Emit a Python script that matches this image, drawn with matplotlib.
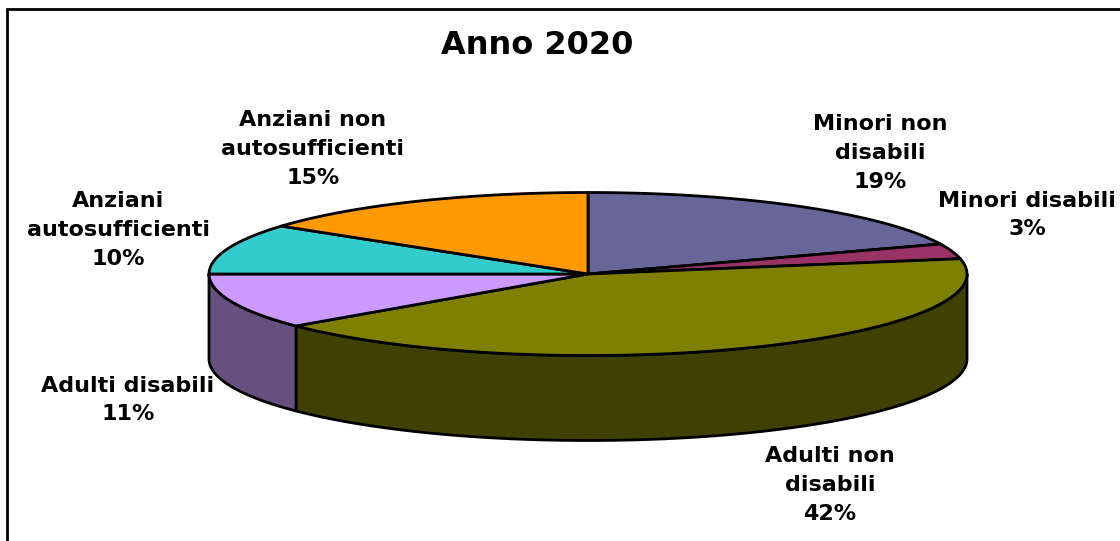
import numpy as np
import matplotlib
matplotlib.use("Agg")
import matplotlib.pyplot as plt
from matplotlib.patches import Polygon, Rectangle

labels = ["Minori non\ndisabili", "Minori disabili", "Adulti non\ndisabili", "Adulti disabili",
          "Anziani\nautosufficienti", "Anziani non\nautosufficienti"]
values = [19, 3, 42, 11, 10, 15]
top_colors = ["#666699", "#993366", "#808000", "#CC99FF", "#33CCCC", "#FF9900"]
side_colors = ["#333366", "#4d1a33", "#404000", "#665080", "#1a6666", "#804d00"]

plt.rcParams["font.family"] = ["DejaVu Sans"]

cx, cy, rx, ry, depth = 588, 274, 379, 81.5, 85
label_pos = [(880, 153), (1027, 215), (830, 485), (128, 400), (118, 230), (313, 149)]

fig = plt.figure(figsize=(11.2, 5.41), dpi=100)
ax = fig.add_axes([0, 0, 1, 1])
ax.set_xlim(0, 1120)
ax.set_ylim(541, 0)
ax.axis("off")

ax.add_patch(Rectangle((7, 9), 1200, 600, fc="white", ec="black", lw=2))


def rim(a0, a1, dy=0):
    t = np.radians(np.linspace(a0, a1, 200))
    return np.column_stack([cx + rx * np.sin(t), cy - ry * np.cos(t) + dy])


edges = np.concatenate([[0], np.cumsum(values)]) * 3.6

# sides first, only the part of the rim facing the viewer
for i in range(len(values)):
    a0, a1 = max(edges[i], 90), min(edges[i + 1], 270)
    if a0 >= a1:
        continue
    pts = np.vstack([rim(a0, a1), rim(a0, a1, depth)[::-1]])
    ax.add_patch(Polygon(pts, fc=side_colors[i], ec="black", lw=2, joinstyle="round"))

for i in range(len(values)):
    pts = np.vstack([[cx, cy], rim(edges[i], edges[i + 1])])
    ax.add_patch(Polygon(pts, fc=top_colors[i], ec="black", lw=2, joinstyle="round"))

ax.text(537, 45, "Anno 2020", ha="center", va="center", fontsize=23, fontweight="bold")
for lab, v, (x, y) in zip(labels, values, label_pos):
    ax.text(x, y, f"{lab}\n{v}%", ha="center", va="center", fontsize=16, fontweight="bold",
            linespacing=1.55)

fig.savefig("out.png", dpi=100)
